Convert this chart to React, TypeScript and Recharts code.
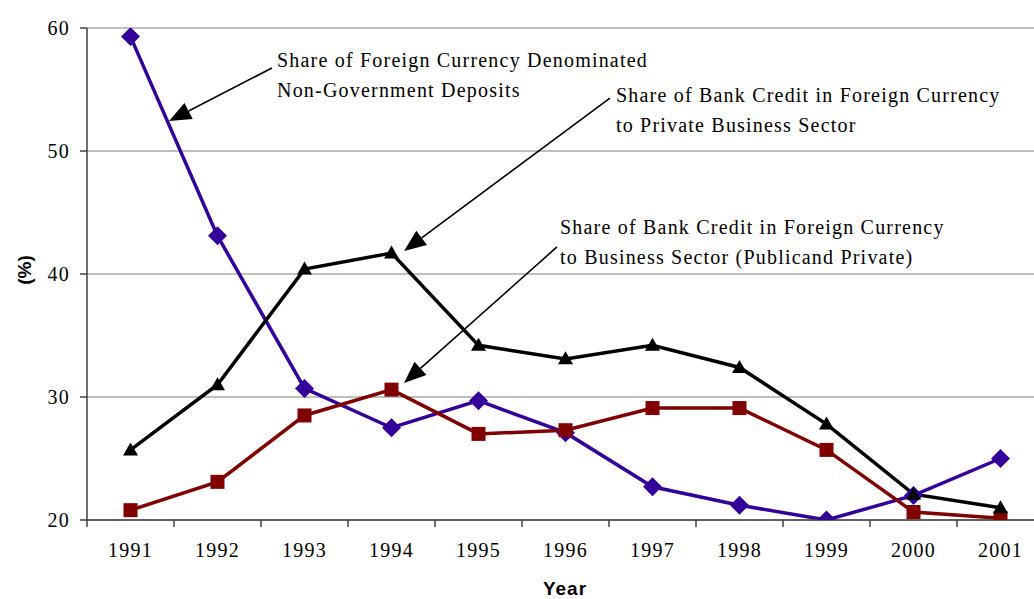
import React from "react";
import { LineChart, Line, XAxis, YAxis, CartesianGrid, ReferenceLine, ReferenceDot, Label } from "recharts";

const years = ["1991", "1992", "1993", "1994", "1995", "1996", "1997", "1998", "1999", "2000", "2001"];
const depositShare = [59.3, 43.1, 30.7, 27.5, 29.7, 27.1, 22.7, 21.2, 20.0, 22.0, 25.0];
const privateCreditShare = [25.7, 31.0, 40.4, 41.7, 34.2, 33.1, 34.2, 32.4, 27.8, 22.1, 21.0];
const businessCreditShare = [20.8, 23.1, 28.5, 30.6, 27.0, 27.3, 29.1, 29.1, 25.7, 20.65, 20.15];
const yTicks = [20, 30, 40, 50, 60];

// annotations, in data units (x = category position 1..11)
const noteLines = [
    ["Share of Foreign Currency Denominated", "Non-Government Deposits"],
    ["Share of Bank Credit in Foreign Currency", "to Private Business Sector"],
    ["Share of Bank Credit in Foreign Currency", "to Business Sector (Publicand Private)"],
];
const noteAt = [
    { x: 2.684, y: 56.85 },
    { x: 6.58, y: 54.0 },
    { x: 5.937, y: 43.25 },
];
const arrowFrom = [
    { x: 2.626, y: 56.75 },
    { x: 6.511, y: 54.3 },
    { x: 5.902, y: 42.2 },
];
const arrowTo = [
    { x: 1.443, y: 52.44 },
    { x: 4.144, y: 41.87 },
    { x: 4.144, y: 31.14 },
];

const data = years.map((year, i) => ({
    year,
    pos: i + 1,
    deposits: depositShare[i],
    privateCredit: privateCreditShare[i],
    businessCredit: businessCreditShare[i],
}));

const serif = "'Liberation Serif', 'Times New Roman', serif";
const sans = "'Liberation Sans', Arial, sans-serif";
const axisColor = "#404040";
const plotWidth = 957; // runs a little past the right edge, like the original

const Diamond = (p: any) => {
    const { cx, cy } = p;
    if (cx == null || cy == null) return null;
    return <polygon points={`${cx},${cy - 9.5} ${cx + 9.5},${cy} ${cx},${cy + 9.5} ${cx - 9.5},${cy}`} fill="#330099" />;
};
const Square = (p: any) => {
    const { cx, cy } = p;
    if (cx == null || cy == null) return null;
    return <rect x={cx - 7} y={cy - 7} width={14} height={14} fill="#800000" />;
};
const Triangle = (p: any) => {
    const { cx, cy } = p;
    if (cx == null || cy == null) return null;
    return <polygon points={`${cx},${cy - 7.5} ${cx + 7.5},${cy + 5.5} ${cx - 7.5},${cy + 5.5}`} fill="#000000" />;
};

const Arrow = (p: any) => {
    const { x1, y1, x2, y2 } = p;
    const ang = Math.atan2(y2 - y1, x2 - x1);
    const len = 22, half = 9;
    const bx = x2 - len * Math.cos(ang), by = y2 - len * Math.sin(ang);
    const nx = -Math.sin(ang), ny = Math.cos(ang);
    return (
        <g>
            <line x1={x1} y1={y1} x2={bx} y2={by} stroke="#000" strokeWidth={1.6} />
            <polygon points={`${x2},${y2} ${bx + nx * half},${by + ny * half} ${bx - nx * half},${by - ny * half}`} fill="#000" />
        </g>
    );
};

const XTick = (p: any) => {
    const { x, y, payload, index } = p;
    const half = plotWidth / years.length / 2;
    return (
        <g>
            <line x1={x - half} y1={y} x2={x - half} y2={y + 7} stroke={axisColor} strokeWidth={1.5} />
            {index === years.length - 1 && (
                <line x1={x + half} y1={y} x2={x + half} y2={y + 7} stroke={axisColor} strokeWidth={1.5} />
            )}
            <text x={x} y={y + 37} textAnchor="middle" fontFamily={serif} fontSize={20} letterSpacing={1.2} fill="#000">
                {payload.value}
            </text>
        </g>
    );
};

export default function App() {
    return (
        <div style={{ position: "absolute", left: 0, top: 0, width: 1034, height: 599, overflow: "hidden", background: "#fff" }}>
            <LineChart width={1034} height={599} data={data} margin={{ top: 28, right: 1034 - 87 - plotWidth, left: 0, bottom: 0 }}>
                <CartesianGrid vertical={false} stroke="#808080" strokeWidth={1.2} />
                <XAxis dataKey="year" scale="band" height={79} tick={<XTick />} tickLine={false} tickSize={0} tickMargin={0}
                       interval={0} axisLine={{ stroke: axisColor, strokeWidth: 1.5 }}>
                    <Label content={(lp: any) => {
                        const vb = lp.viewBox || {};
                        return (
                            <text x={565} y={vb.y + 75} textAnchor="middle" fontFamily={sans}
                                  fontWeight="bold" fontSize={19} letterSpacing={1} fill="#000">Year</text>
                        );
                    }} />
                </XAxis>
                <XAxis xAxisId="n" type="number" dataKey="pos" domain={[0.5, 11.5]} hide allowDataOverflow />
                <YAxis width={87} domain={[20, 60]} ticks={yTicks} interval={0} allowDataOverflow
                       tickSize={7} tickMargin={10}
                       tickLine={{ stroke: axisColor, strokeWidth: 1.5 }}
                       axisLine={{ stroke: axisColor, strokeWidth: 1.5 }}
                       tick={{ fontFamily: serif, fontSize: 20, fill: "#000", letterSpacing: 1.2 } as any}>
                    <Label content={(lp: any) => {
                        const vb = lp.viewBox || {};
                        const cx = 24, cy = vb.y + vb.height / 2 - 4;
                        return (
                            <text x={cx} y={cy} transform={`rotate(-90 ${cx} ${cy})`} textAnchor="middle"
                                  dominantBaseline="central" fontFamily={sans} fontWeight="bold" fontSize={19} fill="#000">(%)</text>
                        );
                    }} />
                </YAxis>
                <Line type="linear" dataKey="deposits" stroke="#330099" strokeWidth={3.5} dot={<Diamond />}
                      activeDot={false} isAnimationActive={false} />
                <Line type="linear" dataKey="businessCredit" stroke="#800000" strokeWidth={3.5} dot={<Square />}
                      activeDot={false} isAnimationActive={false} />
                <Line type="linear" dataKey="privateCredit" stroke="#000000" strokeWidth={3.5} dot={<Triangle />}
                      activeDot={false} isAnimationActive={false} />
                {arrowFrom.map((a, i) => (
                    <ReferenceLine key={`arrow-${i}`} xAxisId="n" ifOverflow="visible"
                                   segment={[{ x: a.x, y: a.y }, { x: arrowTo[i].x, y: arrowTo[i].y }]}
                                   shape={(sp: any) => <Arrow {...sp} />} />
                ))}
                {noteAt.map((n, i) => (
                    <ReferenceDot key={`note-${i}`} xAxisId="n" x={n.x} y={n.y} r={0} ifOverflow="visible"
                                  shape={(dp: any) => (
                                      <text x={dp.cx} y={dp.cy} fontFamily={serif} fontSize={20} letterSpacing={1.2} fill="#000">
                                          {noteLines[i].map((t, j) => (
                                              <tspan key={j} x={dp.cx} dy={j === 0 ? 0 : 30}>{t}</tspan>
                                          ))}
                                      </text>
                                  )} />
                ))}
            </LineChart>
        </div>
    );
}
